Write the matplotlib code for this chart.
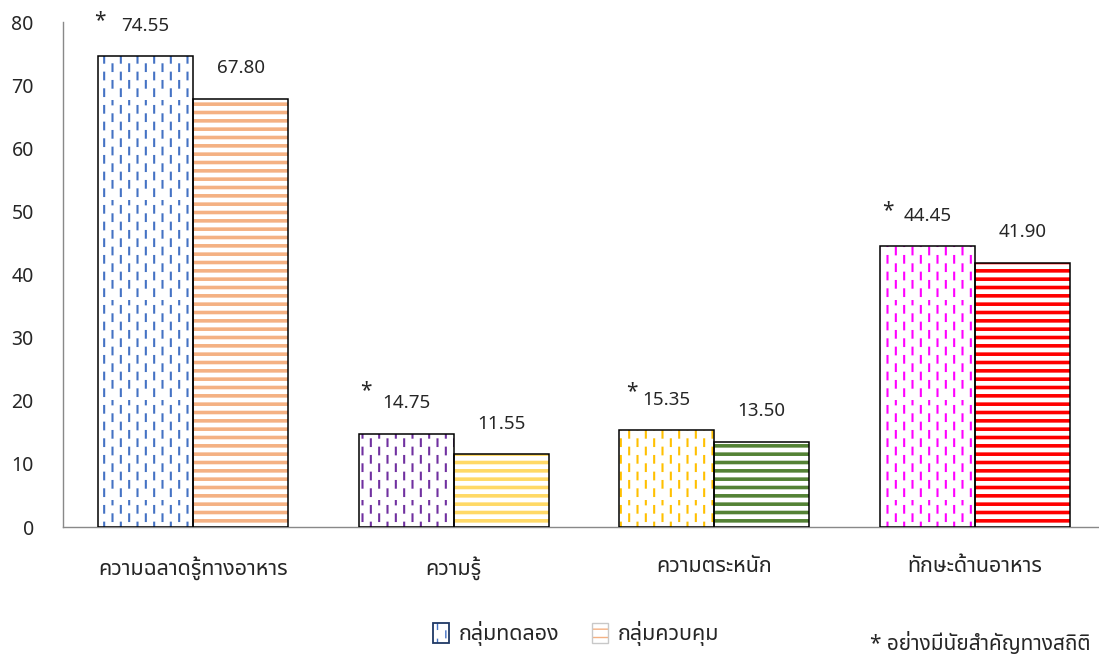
import matplotlib
matplotlib.use("Agg")
import matplotlib.pyplot as plt
import numpy as np
from matplotlib import font_manager
from matplotlib import hatch as mhatch
from matplotlib.path import Path
from matplotlib.patches import Patch
from matplotlib.legend_handler import HandlerTuple

categories = ["ความฉลาดรู้ทางอาหาร", "ความรู้", "ความตระหนัก", "ทักษะด้านอาหาร"]
exp_values = [74.55, 14.75, 15.35, 44.45]
ctl_values = [67.80, 11.55, 13.50, 41.90]
exp_labels = ["74.55", "14.75", "15.35", "44.45"]
ctl_labels = ["67.80", "11.55", "13.50", "41.90"]
significant = [True, True, True, True]
y_ticks = [0, 10, 20, 30, 40, 50, 60, 70, 80]
legend_labels = ["กลุ่มทดลอง", "กลุ่มควบคุม"]
footnote = "* อย่างมีนัยสำคัญทางสถิติ"

exp_colors = ["#4472C4", "#7030A0", "#FFC000", "#FF00FF"]
ctl_colors = ["#F4B183", "#FFD966", "#548235", "#FF0000"]

# pick an installed font with Thai glyphs
names = {f.name for f in font_manager.fontManager.ttflist}
thai = next((n for n in ["Noto Sans Thai", "Noto Sans Thai Looped", "Sarabun",
                         "Niramit", "Trirong"] if n in names), "DejaVu Sans")
plt.rcParams['font.family'] = [thai, 'Noto Sans', 'DejaVu Sans']


# Excel-like staggered dashed vertical pattern instead of the plain '|' hatch
class DashedVerticalHatch(mhatch.HatchPatternBase):
    def __init__(self, hatch, density):
        self.num_cols = int(hatch.count('|') * density)
        self.num_rows = self.num_cols // 2
        self.num_vertices = self.num_cols * self.num_rows * 2

    def set_vertices_and_codes(self, vertices, codes):
        k = 0
        for i in range(self.num_cols):
            x = (i + 0.5) / self.num_cols
            off = 0.5 / self.num_rows if i % 2 else 0.0
            for j in range(self.num_rows):
                y0 = j / self.num_rows + off + 0.04
                vertices[k] = (x, y0)
                vertices[k + 1] = (x, y0 + 0.4 / self.num_rows)
                codes[k] = Path.MOVETO
                codes[k + 1] = Path.LINETO
                k += 2


mhatch._hatch_types[mhatch._hatch_types.index(mhatch.VerticalHatch)] = DashedVerticalHatch

fig = plt.figure(figsize=(10.99, 6.59), dpi=100)
ax = fig.add_axes([0.0573, 0.2003, 0.9427, 0.7663])

x = np.arange(len(categories))
w = 0.365
lw_dash, lw_stripe = 1.5, 2.6

for i in range(len(categories)):
    with plt.rc_context({'hatch.linewidth': lw_dash}):
        ax.bar(x[i] - w / 2, exp_values[i], w, color='white', edgecolor=exp_colors[i],
               linewidth=0, hatch='||', zorder=2)
    with plt.rc_context({'hatch.linewidth': lw_stripe}):
        ax.bar(x[i] + w / 2, ctl_values[i], w, color='white', edgecolor=ctl_colors[i],
               linewidth=0, hatch='--', zorder=2)

ax.bar(x - w / 2, exp_values, w, facecolor='none', edgecolor='black', linewidth=1.1, zorder=3)
ax.bar(x + w / 2, ctl_values, w, facecolor='none', edgecolor='black', linewidth=1.1, zorder=3)

for i in range(len(categories)):
    ax.annotate(exp_labels[i], (x[i] - w / 2, exp_values[i]), xytext=(0, 22),
                textcoords='offset points', ha='center', va='center', fontsize=13.5,
                color='#262626')
    ax.annotate(ctl_labels[i], (x[i] + w / 2, ctl_values[i]), xytext=(0, 22),
                textcoords='offset points', ha='center', va='center', fontsize=13.5,
                color='#262626')

# stars sit a little above and left of the experimental value labels
star_offsets = [(-33, 26), (-29, 31), (-25, 28), (-28, 26)]
for i in range(len(categories)):
    if significant[i]:
        ax.annotate("*", (x[i] - w / 2, exp_values[i]), xytext=star_offsets[i],
                    textcoords='offset points', ha='center', va='center', fontsize=15,
                    color='#262626')

ax.set_xlim(-0.5, 3.477)
ax.set_ylim(0, 80)
ax.set_yticks(y_ticks)
ax.set_xticks(x)
ax.set_xticklabels(categories)
ax.tick_params(axis='y', length=0, pad=21, labelsize=14, labelcolor='#262626')
ax.tick_params(axis='x', length=0, pad=21, labelsize=15.5, labelcolor='#262626')
for s in ['top', 'right']:
    ax.spines[s].set_visible(False)
for s in ['left', 'bottom']:
    ax.spines[s].set_color('#898989')
    ax.spines[s].set_linewidth(1.0)

with plt.rc_context({'hatch.linewidth': lw_dash}):
    h1 = Patch(facecolor='white', edgecolor=exp_colors[0], linewidth=0, hatch='||')
with plt.rc_context({'hatch.linewidth': lw_stripe}):
    h2 = Patch(facecolor='white', edgecolor=ctl_colors[0], linewidth=0, hatch='--')
o1 = Patch(facecolor='none', edgecolor='#1F3864', linewidth=1.3)
o2 = Patch(facecolor='none', edgecolor='#C8C8C8', linewidth=1.0)
fig.legend([(h1, o1), (h2, o2)], legend_labels, handler_map={tuple: HandlerTuple(ndivide=1)},
           loc='center', bbox_to_anchor=(0.524, 0.038), ncol=2, frameon=False, fontsize=15.5,
           handlelength=0.75, handleheight=1.1, handletextpad=0.45, columnspacing=1.5,
           labelcolor='#262626')

fig.text(0.992, 0.024, footnote, ha='right', va='center', fontsize=15, color='#262626')

fig.savefig('out.png', dpi=100)
